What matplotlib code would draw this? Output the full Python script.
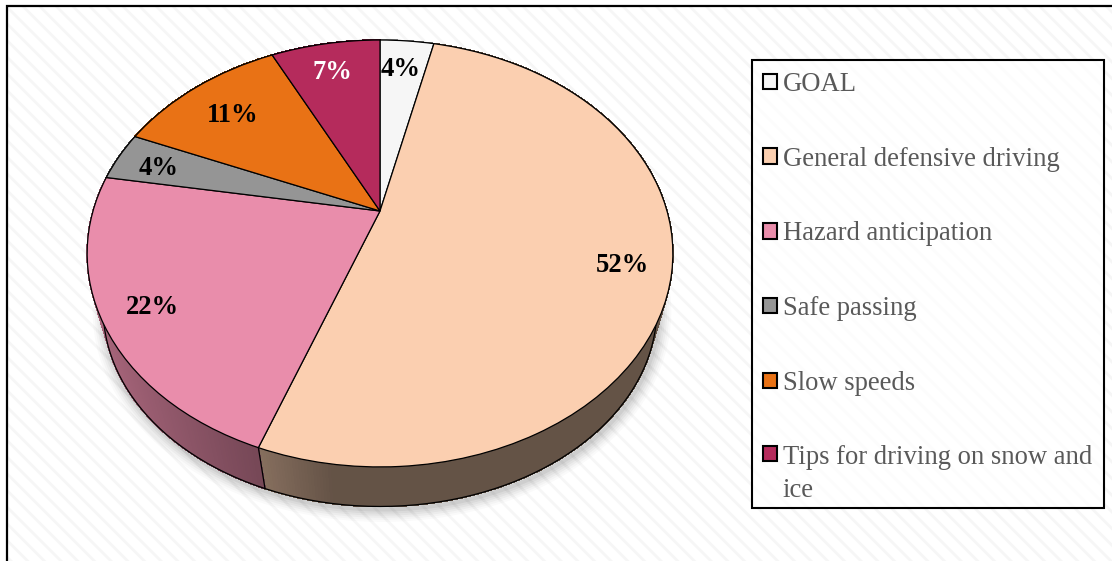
import numpy as np
import matplotlib
matplotlib.use("Agg")
import matplotlib.pyplot as plt
from matplotlib.transforms import Transform
from matplotlib.patches import Rectangle
from matplotlib.collections import PolyCollection
from matplotlib.legend_handler import HandlerPatch

categories = ["GOAL", "General defensive driving", "Hazard anticipation",
              "Safe passing", "Slow speeds", "Tips for driving on snow and\nice"]
values = [3.6, 52.0, 22.1, 3.7, 11.3, 7.3]
colors = ["#F6F6F6", "#FBCFB0", "#E98DAB", "#959595", "#E97215", "#B52B5C"]
side_light = [0.6, 0.53, 0.72, 0.6, 0.6, 0.6]
side_dark = [0.45, 0.40, 0.51, 0.45, 0.45, 0.45]
side_ramp = [60, 70, 165, 60, 60, 60]
label_xy = [(401, 69), (622, 265), (152, 307), (159, 168), (233, 115), (332, 72)]
label_colors = ["black", "black", "black", "black", "black", "white"]

W, H = 1112, 561
APEX = (380.0, 211.0)
A, B, K = 287.0, 205.0, 0.199
TOP_C, TOP_R = (380.0, 254.0), (293.0, 213.5)
BOT_C, BOT_R = (380.0, 309.0), (277.0, 198.0)
plt.rcParams["hatch.linewidth"] = 2.0
SERIF = ["Liberation Serif", "DejaVu Serif"]


class Perspective(Transform):
    input_dims = 2
    output_dims = 2
    is_separable = False
    has_inverse = False

    def transform_non_affine(self, xy):
        xy = np.asarray(xy, dtype=float)
        d = 1 + K * xy[:, 1]
        return np.column_stack((APEX[0] + A * xy[:, 0] / d,
                                APEX[1] - B * xy[:, 1] / d))


persp = Perspective()

fig = plt.figure(figsize=(W / 100, H / 100), dpi=100, facecolor="white")
ax = fig.add_axes([0, 0, 1, 1])
wedges, _, autotexts = ax.pie(
    values, colors=colors, startangle=90, counterclock=False, autopct="%.0f%%",
    wedgeprops=dict(edgecolor="black", linewidth=0.9, zorder=6,
                    transform=persp + ax.transData),
    textprops=dict(family=SERIF, fontsize=19.2, fontweight="bold", zorder=7))
ax.set_aspect("auto")
ax.set_xlim(0, W)
ax.set_ylim(H, 0)
ax.axis("off")

# page background with diagonal stripes and left/top rules
ax.add_patch(Rectangle((6.5, 5.5), W, H, facecolor="white", edgecolor="#F6F6F6",
                       hatch="\\\\", linewidth=0, zorder=0))
ax.plot([7, 7, W], [H, 5.5, 5.5], color="black", lw=1.6, zorder=1,
        solid_joinstyle="miter")


def rim(deg):
    """Rim points of the top face and of the lower face for pie angles in degrees."""
    t = np.radians(deg)
    pts = persp.transform_non_affine(np.column_stack((np.cos(t), np.sin(t))))
    a = (pts[:, 0] - TOP_C[0]) / TOP_R[0]
    b = (pts[:, 1] - TOP_C[1]) / TOP_R[1]
    return pts, np.column_stack((BOT_C[0] + BOT_R[0] * a, BOT_C[1] + BOT_R[1] * b))


# side wall, soft shadow and outlines follow the slice angles
ends = 90 - 3.6 * np.cumsum([0] + values)
full = np.linspace(0, 360, 361)
_, low = rim(full)
for lw, al in zip([18, 15, 12, 9, 6, 3], [0.018, 0.025, 0.03, 0.035, 0.04, 0.05]):
    ax.plot(low[:, 0] + 2, low[:, 1] + 3, color="black", alpha=al, lw=lw, zorder=2,
            solid_capstyle="round")

for i, c in enumerate(colors):
    angs = np.linspace(ends[i], ends[i + 1], max(3, int(ends[i] - ends[i + 1]) * 2))
    top, bot = rim(angs)
    xs = (top[:-1, 0] + top[1:, 0]) / 2
    frac = np.clip((xs - xs.min()) / side_ramp[i], 0, 1)
    base = np.array(matplotlib.colors.to_rgb(c))
    f = side_light[i] + (side_dark[i] - side_light[i]) * frac
    quads = [[top[j], top[j + 1], bot[j + 1], bot[j]] for j in range(len(angs) - 1)]
    cols = [tuple(base * v) for v in f]
    ax.add_collection(PolyCollection(quads, facecolors=cols, edgecolors=cols,
                                     linewidths=0.6, antialiaseds=False, zorder=3))

ax.plot(low[:, 0], low[:, 1], color="black", lw=0.9, zorder=4)
btop, bbot = rim(ends)
for p, q in zip(btop, bbot):
    ax.plot([p[0], q[0]], [p[1], q[1]], color="black", lw=0.9, zorder=4)

for t, xy, col in zip(autotexts, label_xy, label_colors):
    t.set_position(xy)
    t.set_color(col)
    t.set_ha("center")
    t.set_va("center")


def first_line_box(legend, orig_handle, xdescent, ydescent, width, height, fontsize):
    lift = 15 if "\n" in orig_handle.get_label() else 0
    return Rectangle((-xdescent, -ydescent + lift), width, height)


for w, c in zip(wedges, categories):
    w.set_label(c)
handler = HandlerPatch(patch_func=first_line_box)
leg = ax.legend(
    handles=wedges, labels=categories, handler_map={w: handler for w in wedges},
    loc="upper left", bbox_to_anchor=(751.5 / W, 1 - 60 / H), bbox_transform=fig.transFigure,
    prop=dict(family="Liberation Serif", size=19.15), labelcolor="#595959",
    handlelength=0.52, handleheight=0.52, handletextpad=0.2, labelspacing=1.868,
    borderpad=0.45, borderaxespad=0, frameon=False)
leg.set_zorder(9)
for t in leg.get_texts():
    t.set_linespacing(1.42)
for h in leg.legend_handles:
    h.set_edgecolor("black")
    h.set_linewidth(1.5)

# the frame ends a little above the legend's own box, as in the source figure
fig.canvas.draw()
bb = leg.get_window_extent()
bottom = bb.y0 + (H - 508 - bb.y0)
ax.add_patch(Rectangle((bb.x0, bottom), bb.width, bb.y1 - bottom, transform=None,
                       facecolor="white", edgecolor="#FCFCFC", hatch="\\\\",
                       linewidth=0, zorder=8))
ax.add_patch(Rectangle((bb.x0, bottom), bb.width, bb.y1 - bottom, transform=None,
                       facecolor="none", edgecolor="black", linewidth=1.5, zorder=8.5))

fig.savefig("out.png", dpi=100)
